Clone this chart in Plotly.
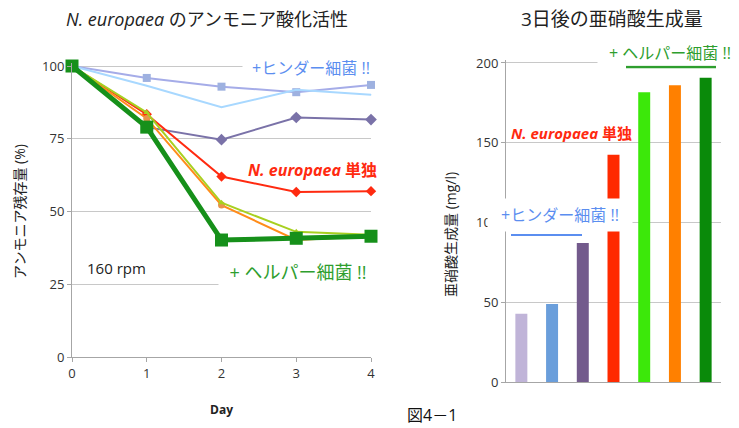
import plotly.graph_objects as go

# left chart: ammonia remaining (%) by day
days = [0, 1, 2, 3, 4]
hinder_a = [100, 95.9, 92.9, 91.0, 93.5]
hinder_b = [100, 93.2, 85.8, 91.8, 90.1]
hinder_c = [100, 79.0, 74.7, 82.3, 81.6]
alone = [100, 83.4, 62.0, 56.7, 57.0]
helper_a = [100, 82.0, 52.2, 40.2, 41.5]
helper_b = [100, 84.0, 53.0, 43.0, 42.0]
helper_c = [100, 79.0, 40.2, 40.8, 41.5]

# right chart: nitrite after 3 days (mg/l)
bar_pos = [0, 1, 2, 3, 4, 5, 6]
bar_vals = [43.0, 49.0, 87.3, 142.5, 181.6, 186.0, 190.8]
bar_colors = ['#C0B4D8', '#6A9EDB', '#735A8C', '#FF2A00', '#3CE80A', '#FF8000', '#0A8A0A']

W, H = 739, 428
FONT = "Open Sans, Noto Sans CJK JP, sans-serif"


def px(x):
    return x / W


def py(y):
    return 1 - y / H


fig = go.Figure()

lines = [
    (hinder_a, '#A5ACE8', 2, dict(symbol='square', size=8, color='#9EB1E0')),
    (hinder_b, '#A8D8FF', 2, dict(size=1, color='#A8D8FF')),
    (hinder_c, '#7A72A8', 2, dict(symbol='diamond', size=9, color='#7A72A8')),
    (alone, '#FF2A10', 2, dict(symbol='diamond', size=8, color='#FF2A10')),
    (helper_a, '#FF8C1A', 2, dict(symbol='circle', size=7, color='#E8944A')),
    (helper_b, '#A8D020', 2, dict(symbol='triangle-up', size=6, color='#A8D020')),
    (helper_c, '#16901A', 5, dict(symbol='square', size=13, color='#16901A')),
]
for vals, col, w, mk in lines:
    fig.add_trace(go.Scatter(x=days, y=vals, mode='lines+markers',
                             line=dict(color=col, width=w), marker=mk,
                             cliponaxis=False, xaxis='x', yaxis='y',
                             showlegend=False))

fig.add_trace(go.Bar(x=bar_pos, y=bar_vals, marker=dict(color=bar_colors, line=dict(width=0)),
                     width=0.39, xaxis='x2', yaxis='y2', showlegend=False))

axis_common = dict(showline=True, linecolor='#A6A6A6', linewidth=1,
                   ticks='outside', ticklen=4, tickcolor='#A6A6A6', automargin=False,
                   tickfont=dict(size=13, color='#333333'), zeroline=False)

fig.update_layout(
    width=W, height=H,
    margin=dict(l=0, r=0, t=0, b=0),
    paper_bgcolor='white', plot_bgcolor='white',
    font=dict(family=FONT, color='#333333'),
    xaxis=dict(domain=[px(72), px(371)], range=[0, 4], tickvals=days,
               showgrid=False, anchor='y', **axis_common),
    yaxis=dict(domain=[py(357), py(63.1)], range=[0, 101],
               tickvals=[0, 25, 50, 75, 100], showgrid=True,
               gridcolor='#C8C8C8', gridwidth=1, anchor='x', **axis_common),
    xaxis2=dict(domain=[px(506), px(721)], range=[-0.5, 6.5], showticklabels=False,
                showgrid=False, anchor='y2', showline=True, linecolor='#A6A6A6',
                ticks='', zeroline=False, automargin=False),
    yaxis2=dict(domain=[py(382.3), py(59.8)], range=[0, 202],
                tickvals=[0, 50, 100, 150, 200], showgrid=True,
                gridcolor='#C8C8C8', gridwidth=1, anchor='x2', **axis_common),
)

ann = []
# titles
ann.append(dict(x=px(207), y=py(19), text='<i>N. europaea</i> のアンモニア酸化活性',
                font=dict(size=18, color='#222222')))
ann.append(dict(x=px(612), y=py(19), text='3日後の亜硝酸生成量',
                font=dict(size=19, color='#222222')))
# axis titles
ann.append(dict(x=px(20), y=py(212), text='アンモニア残存量 (%)', textangle=-90,
                font=dict(size=14, color='#222222')))
ann.append(dict(x=px(450), y=py(235), text='亜硝酸生成量 (mg/l)', textangle=-90,
                font=dict(size=14, color='#222222')))
ann.append(dict(x=px(221), y=py(409), text='<b>Day</b>', font=dict(size=12, color='#222222')))
ann.append(dict(x=px(432), y=py(415), text='図4－1', font=dict(size=16, color='#111111')))
# left labels
ann.append(dict(x=px(311), y=py(68), text='+ヒンダー細菌 !!', font=dict(size=16, color='#5B8EF0'),
                bgcolor='white', width=136, height=18, borderpad=0))
ann.append(dict(x=px(312), y=py(170), text='<b><i>N. europaea</i> 単独</b>',
                font=dict(size=16, color='#FF2A10')))
ann.append(dict(x=px(298), y=py(272), text='+ ヘルパー細菌 !!', font=dict(size=18, color='#2E9E2E'),
                bgcolor='white', width=154, height=22, borderpad=2))
ann.append(dict(x=px(117), y=py(268), text='160 rpm', font=dict(size=15, color='#222222')))
# right labels
ann.append(dict(x=px(571), y=py(133), text='<b><i>N. europaea</i> 単独</b>',
                font=dict(size=15, color='#FF2A10')))
ann.append(dict(x=px(560), y=py(215), text='+ヒンダー細菌 !!', font=dict(size=16, color='#5B8EF0'),
                bgcolor='white', width=140, height=28, borderpad=2))
ann.append(dict(x=px(670), y=py(52), text='+ ヘルパー細菌 !!', font=dict(size=16, color='#2E9E2E'),
                bgcolor='white', width=140, height=21, borderpad=2))
for a in ann:
    a.update(xref='paper', yref='paper', showarrow=False, xanchor='center', yanchor='middle')
fig.update_layout(annotations=ann)

# brackets under the right-hand group labels
fig.add_shape(type='line', xref='paper', yref='paper', x0=px(511), x1=px(582), y0=py(235), y1=py(235),
              line=dict(color='#5B8EF0', width=2))
fig.add_shape(type='line', xref='paper', yref='paper', x0=px(626), x1=px(716), y0=py(67), y1=py(67),
              line=dict(color='#2E9E2E', width=2.5))

# the page's default body margin would push the figure 8px off
fig.write_html("out.html", config={'displayModeBar': False},
               post_script="document.body.style.margin='0';")
